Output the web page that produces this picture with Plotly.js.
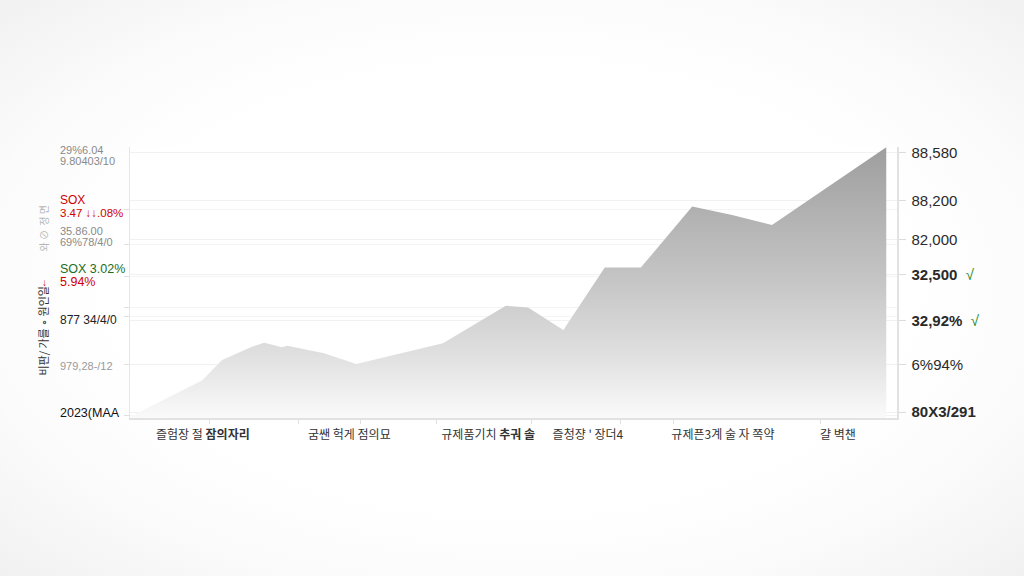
<!DOCTYPE html>
<html>
<head>
<meta charset="utf-8">
<script src="https://cdn.plot.ly/plotly-3.0.1.min.js"></script>
<style>
  html, body { margin: 0; padding: 0; width: 1024px; height: 576px; overflow: hidden; background: #f2f2f2; }
  #wrap { position: absolute; left: 0; top: 0; width: 1024px; height: 576px;
          background: radial-gradient(ellipse at 50% 50%, #ffffff 55%, #fbfbfb 75%, #f1f1f1 100%); }
  #chart { position: absolute; left: 0; top: 0; width: 1024px; height: 576px; }
</style>
</head>
<body>
<div id="wrap"></div>
<div id="chart"></div>
<script>
// ---- data (arbitrary index units) ----
const xPos = [0, 9.4, 12.0, 15.9, 17.5, 19.8, 20.5, 25.3, 29.5, 40.8, 49.0, 51.9, 56.5, 61.9, 66.6, 73.3, 78.5, 83.7, 98.6];
const yVal = [0.5, 13.8, 21.4, 26.3, 27.8, 26.1, 26.7, 23.9, 19.9, 27.6, 41.4, 40.8, 32.5, 55.5, 55.5, 78.0, 74.9, 71.2, 99.9];

const catPos = [9.5, 28.6, 46.7, 59.7, 77.3, 92.3];
const catLabels = ['즐험장 절 <b>잠의자리</b>', '굼쌘 헉게 점의묘', '규제품기치 <b>추궈 솔</b>', '즐청쟝 \' 장더4', '규제픈3계 술 자 쪽약', '걀 벽챈'];
const xTickMarks = [10.4, 22.0, 30.1, 40.0, 52.4, 63.9, 70.9, 90.0];

const rightTickVals = [97.8, 80.1, 65.7, 52.8, 35.8, 19.6, 2.2];
const rightTickText = ['88,580', '88,200', '82,000',
  '<b>32,500</b>  <span style="color:#2e8b2e">√</span>',
  '<b>32,92%</b>  <span style="color:#2e8b2e">√</span>',
  '6%94%', '<b>80X3/291</b>'];

const leftTickVals = [76.8, 64.2, 52.4, 40.6, 37.3, 19.9, 1.1];

const leftLabelY = [150, 161, 200, 213, 231, 242, 269, 282, 320, 366, 413];
const leftLabelText = ['29%6.04', '9.80403/10', 'SOX', '3.47 ↓↓.08%', '35.86.00', '69%78/4/0',
  'SOX 3.02%', '5.94%', '877 34/4/0', '979,28-/12', '2023(MAA'];
const leftLabelColor = ['#8a8a8a', '#8a8a8a', '#d10000', '#d10000', '#8a8a8a', '#8a8a8a',
  '#1c6e1c', '#d10000', '#222222', '#9a9a9a', '#111111'];
const leftLabelSize = [11, 11, 12, 11.5, 11, 11, 12.5, 12.5, 12, 11, 12.5];

const yTitle = '비판/ 가를 ∘ 원인일';

// ---- build ----
const H = 576;
const annotations = leftLabelText.map((t, i) => ({
  xref: 'paper', yref: 'paper', x: -0.094, xanchor: 'left',
  y: (H - 158 - leftLabelY[i]) / (H - 158 - 147) , yanchor: 'middle',
  text: t, showarrow: false,
  font: {family: 'Liberation Sans, Arial, sans-serif', size: leftLabelSize[i], color: leftLabelColor[i]}
}));
annotations.push({
  xref: 'paper', yref: 'paper', x: -0.114, y: (H - 158 - 331) / (H - 158 - 147),
  xanchor: 'center', yanchor: 'middle', textangle: -90, showarrow: false,
  text: yTitle, font: {family: 'Noto Sans CJK KR, sans-serif', size: 11, color: '#333'}
});
annotations.push({
  xref: 'paper', yref: 'paper', x: -0.114, y: (H - 158 - 228) / (H - 158 - 147),
  xanchor: 'center', yanchor: 'middle', textangle: -90, showarrow: false,
  text: '와 ⊘  정 면', font: {family: 'Noto Sans CJK KR, sans-serif', size: 10, color: '#b5b5b5'}
});
annotations.push({
  xref: 'paper', yref: 'paper', x: -0.112, y: (H - 158 - 282) / (H - 158 - 147),
  xanchor: 'center', yanchor: 'middle', showarrow: false,
  text: '↓', font: {family: 'Liberation Sans, sans-serif', size: 10, color: '#d10000'}
});

const traces = [
  {
    x: xPos, y: yVal, type: 'scatter', mode: 'lines', fill: 'tozeroy',
    line: {width: 0, color: 'rgba(170,170,170,0)'},
    fillgradient: {type: 'vertical',
      colorscale: [[0, 'rgb(250,250,250)'], [0.25, 'rgb(222,222,222)'], [0.5, 'rgb(198,198,198)'], [0.75, 'rgb(178,178,178)'], [1, 'rgb(158,158,158)']]},
    hoverinfo: 'skip', xaxis: 'x', yaxis: 'y'
  },
  { x: [0, 100], y: [0, 0], type: 'scatter', mode: 'lines', line: {width: 0}, xaxis: 'x2', yaxis: 'y2', hoverinfo: 'skip', showlegend: false }
];

const layout = {
  width: 1024, height: 576,
  margin: {l: 130, r: 127, t: 147, b: 158},
  paper_bgcolor: 'rgba(0,0,0,0)', plot_bgcolor: 'rgba(255,255,255,0.6)',
  showlegend: false,
  xaxis: {
    range: [0, 100], tickvals: catPos, ticktext: catLabels, ticks: '',
    showgrid: false, zeroline: false, showline: true, linecolor: '#e2e2e2', linewidth: 1.5,
    tickfont: {family: 'Noto Sans CJK KR, sans-serif', size: 12, color: '#333'},
    ticklabelstandoff: 5, fixedrange: true
  },
  xaxis2: {
    range: [0, 100], overlaying: 'x', anchor: 'y', side: 'bottom',
    tickvals: xTickMarks, showticklabels: false, ticks: 'outside', ticklen: 5, tickcolor: '#e0e0e0',
    showgrid: false, zeroline: false, showline: false
  },
  yaxis: {
    range: [0, 100], tickvals: leftTickVals, showticklabels: false, ticks: 'outside', ticklen: 5, tickcolor: '#e0e0e0',
    showgrid: true, gridcolor: '#f4f4f4', zeroline: false, showline: true, linecolor: '#e6e6e6', linewidth: 1.5
  },
  yaxis2: {
    range: [0, 100], overlaying: 'y', side: 'right', anchor: 'x',
    tickvals: rightTickVals, ticktext: rightTickText, ticks: 'outside', ticklen: 7, tickcolor: '#dcdcdc',
    showgrid: true, gridcolor: '#f1f1f1', zeroline: false, showline: true, linecolor: '#e2e2e2', linewidth: 1.5,
    tickfont: {family: 'Liberation Sans, Arial, sans-serif', size: 15, color: '#2a2a2a'}, ticklabelstandoff: 3
  },
  annotations: annotations
};

Plotly.newPlot('chart', traces, layout, {staticPlot: true, displayModeBar: false});
</script>
</body>
</html>
